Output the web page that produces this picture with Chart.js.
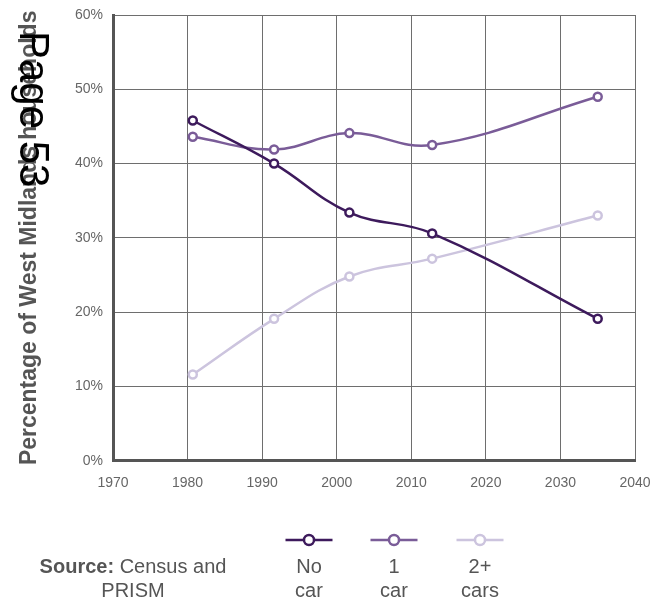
<!DOCTYPE html>
<html>
<head>
<meta charset="utf-8">
<script src="https://cdn.jsdelivr.net/npm/chart.js@4.4.1/dist/chart.umd.min.js"></script>
<style>
  html, body { margin: 0; padding: 0; background: #fff; }
  #wrap { width: 651px; height: 601px; position: relative; }
  canvas { display: block; }
</style>
</head>
<body>
<div id="wrap"><canvas id="chart" width="651" height="601"></canvas></div>
<script>
// Share of West Midlands households by car ownership (census years + 2035 projection)
const years = [1980.7, 1991.6, 2001.7, 2012.8, 2035];
const noCar = [45.8, 40.0, 33.4, 30.6, 19.1];
const oneCar = [43.6, 41.9, 44.1, 42.5, 49.0];
const twoPlusCars = [11.6, 19.1, 24.8, 27.2, 33.0];

const seriesNames = [['No', 'car'], ['1', 'car'], ['2+', 'cars']];
const seriesColors = ['#3d1a5c', '#7a5c98', '#ccc4de'];

const xTickValues = [1970, 1980, 1990, 2000, 2010, 2020, 2030, 2040];
const yTickValues = [0, 10, 20, 30, 40, 50, 60];

const yAxisTitle = 'Percentage of West Midlands households';
const pageStamp = 'Page 53';
const sourceBold = 'Source:';
const sourceLines = [' Census and', 'PRISM'];

const FONT = "'Liberation Sans', Arial, Helvetica, sans-serif";
Chart.defaults.font.family = FONT;

const toPoints = (vals) => years.map((x, i) => ({ x, y: vals[i] }));
const seriesValues = [noCar, oneCar, twoPlusCars];

const datasets = seriesValues.map((vals, i) => ({
  label: seriesNames[i].join(' '),
  data: toPoints(vals),
  borderColor: seriesColors[i],
  borderWidth: 2.5,
  pointBackgroundColor: '#ffffff',
  pointBorderColor: seriesColors[i],
  pointBorderWidth: 2.5,
  pointRadius: 4,
  tension: 0.4,
  clip: false
}));

// Draws the rotated page stamp, the legend row and the source note
const overlay = {
  id: 'overlay',
  afterDraw(chart) {
    const ctx = chart.ctx;
    const H = chart.height;

    // legend: line + ring above a two-line label
    const legendCenters = [309, 394, 480];
    const lineY = H - 61;
    const textY1 = H - 28;
    const textY2 = H - 4;
    ctx.save();
    chart.data.datasets.forEach((ds, i) => {
      const cx = legendCenters[i];
      ctx.strokeStyle = ds.borderColor;
      ctx.lineWidth = 2.5;
      ctx.beginPath();
      ctx.moveTo(cx - 23.5, lineY);
      ctx.lineTo(cx + 23.5, lineY);
      ctx.stroke();
      ctx.beginPath();
      ctx.arc(cx, lineY, 5, 0, Math.PI * 2);
      ctx.fillStyle = '#ffffff';
      ctx.fill();
      ctx.lineWidth = 2.5;
      ctx.stroke();

      ctx.fillStyle = '#555555';
      ctx.font = '20px ' + FONT;
      ctx.textAlign = 'center';
      ctx.textBaseline = 'alphabetic';
      ctx.fillText(seriesNames[i][0], cx, textY1);
      ctx.fillText(seriesNames[i][1], cx, textY2);
    });

    // source note
    const srcCenter = 133;
    ctx.textBaseline = 'alphabetic';
    ctx.font = 'bold 20px ' + FONT;
    const wBold = ctx.measureText(sourceBold).width;
    ctx.font = '20px ' + FONT;
    const wRest = ctx.measureText(sourceLines[0]).width;
    const startX = srcCenter - (wBold + wRest) / 2;
    ctx.textAlign = 'left';
    ctx.fillStyle = '#555555';
    ctx.font = 'bold 20px ' + FONT;
    ctx.fillText(sourceBold, startX, textY1);
    ctx.font = '20px ' + FONT;
    ctx.fillText(sourceLines[0], startX + wBold, textY1);
    ctx.textAlign = 'center';
    ctx.fillText(sourceLines[1], srcCenter, textY2);

    // page stamp, reading top to bottom
    ctx.translate(20, 31);
    ctx.rotate(Math.PI / 2);
    ctx.font = '42px ' + FONT;
    ctx.fillStyle = '#000000';
    ctx.textAlign = 'left';
    ctx.textBaseline = 'alphabetic';
    ctx.fillText(pageStamp, 0, 0);
    ctx.restore();
  }
};

new Chart(document.getElementById('chart'), {
  type: 'line',
  data: { datasets },
  plugins: [overlay],
  options: {
    responsive: false,
    animation: false,
    devicePixelRatio: 1,
    layout: { padding: { top: 15, bottom: 95.5, left: 0, right: 0 } },
    plugins: {
      legend: { display: false },
      tooltip: { enabled: false }
    },
    scales: {
      x: {
        type: 'linear',
        min: 1970,
        max: 2040,
        afterBuildTicks: (s) => { s.ticks = xTickValues.map(v => ({ value: v })); },
        afterFit: (s) => { s.paddingRight = 16; },
        grid: { color: '#6e6e6e', lineWidth: 1, drawTicks: false },
        border: { color: '#555555', width: 3 },
        ticks: {
          padding: 14,
          color: '#666666',
          font: { size: 14 },
          maxRotation: 0,
          autoSkip: false,
          callback: (v) => String(v)
        }
      },
      y: {
        min: 0,
        max: 60,
        afterBuildTicks: (s) => { s.ticks = yTickValues.map(v => ({ value: v })); },
        afterFit: (s) => { s.width = 113; s.paddingTop = 0; },
        grid: { color: '#6e6e6e', lineWidth: 1, drawTicks: false },
        border: { color: '#555555', width: 3 },
        title: {
          display: true,
          text: yAxisTitle,
          color: '#555555',
          font: { size: 23, weight: 'bold' },
          padding: { top: 16, bottom: 0 }
        },
        ticks: {
          padding: 10,
          color: '#666666',
          font: { size: 14 },
          callback: (v) => v + '%'
        }
      }
    }
  }
});
</script>
</body>
</html>
